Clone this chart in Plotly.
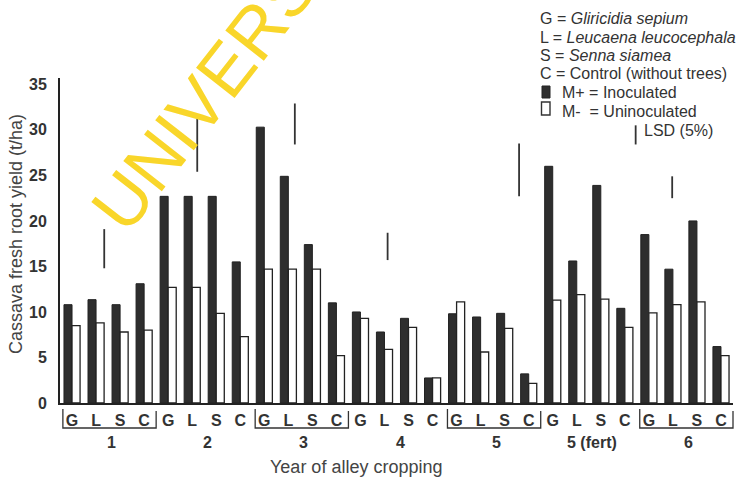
import plotly.graph_objects as go

years = ["1", "2", "3", "4", "5", "5 (fert)", "6"]
trees = ["G", "L", "S", "C"]
bracketed = ["1", "3", "5", "6"]

m_plus = [10.8, 11.35, 10.8, 13.1,
          22.7, 22.7, 22.7, 15.5,
          30.3, 24.9, 17.4, 11.0,
          10.0, 7.8, 9.3, 2.75,
          9.8, 9.45, 9.85, 3.2,
          26.0, 15.6, 23.9, 10.4,
          18.5, 14.7, 20.0, 6.2]
m_minus = [8.5, 8.8, 7.8, 8.0,
           12.7, 12.7, 9.85, 7.3,
           14.7, 14.7, 14.7, 5.2,
           9.3, 5.9, 8.3, 2.75,
           11.1, 5.6, 8.2, 2.15,
           11.3, 11.9, 11.4, 8.3,
           9.9, 10.8, 11.1, 5.2]

# LSD (5%) bars: position (in bar-pair index units), low and high values
lsd_pos = [1.34, 5.21, 9.27, 13.13, 18.6, 24.97, 23.45]
lsd_low = [14.8, 25.4, 28.4, 15.7, 22.7, 22.5, 28.4]
lsd_high = [19.1, 31.5, 32.9, 18.7, 28.5, 24.9, 30.5]

legend_lines = ["G = <i>Gliricidia sepium</i>",
                "L = <i>Leucaena leucocephala</i>",
                "S = <i>Senna siamea</i>",
                "C = Control (without trees)"]

n = len(years) * len(trees)
xs = list(range(n))
ticktext = trees * len(years)

W, H = 742, 480
L, R, T, B = 60, 9, 78, 77
PW, PH = W - L - R, H - T - B


def px(p):
    return (p - L) / PW


def py(p):
    return (H - B - p) / PH


def xpaper(i):
    return (i + 0.5) / n


FONT = "Liberation Sans, Arial, sans-serif"
DARK = "#2e2e2e"

fig = go.Figure()
fig.add_trace(go.Bar(x=xs, y=m_plus, name="M+ = Inoculated",
                     marker=dict(color=DARK, line=dict(color="#222", width=1))))
fig.add_trace(go.Bar(x=xs, y=m_minus, name="M- = Uninoculated",
                     marker=dict(color="white", line=dict(color="#222", width=1.3))))

lx, ly = [], []
for p, lo, hi in zip(lsd_pos, lsd_low, lsd_high):
    lx += [p, p, None]
    ly += [lo, hi, None]
fig.add_trace(go.Scatter(x=lx, y=ly, mode="lines", line=dict(color="#333", width=1.8),
                         hoverinfo="skip"))

shapes = []
annotations = []

# watermark (drawn first so other texts sit above it)
annotations.append(dict(xref="paper", yref="paper", x=px(238), y=py(53),
                        text="UNIVERSITY", textangle=-52, showarrow=False,
                        xanchor="center", yanchor="middle",
                        font=dict(family=FONT, size=71, color="#f9d62a")))

# year labels and brackets
for g, yr in enumerate(years):
    first = g * len(trees)
    last = first + len(trees) - 1
    annotations.append(dict(xref="x", yref="paper", x=(first + last) / 2 + 0.15, y=py(442),
                            text=yr, showarrow=False, xanchor="center", yanchor="middle",
                            font=dict(family=FONT, size=16, color="#333", weight="bold")))
    if yr in bracketed:
        x0 = xpaper(first - 0.38)
        x1 = xpaper(last + 0.5)
        shapes.append(dict(type="path", xref="paper", yref="paper",
                           path=f"M {x0} {py(409)} L {x0} {py(428)} L {x1} {py(428)} L {x1} {py(411)}",
                           line=dict(color="#333", width=1.3)))

# legend
leg_y = [18.5, 37, 55.5, 74]
for t, yy in zip(legend_lines, leg_y):
    annotations.append(dict(xref="paper", yref="paper", x=px(538), y=py(yy), text=t,
                            showarrow=False, xanchor="left", yanchor="middle",
                            font=dict(family=FONT, size=16, color="#333")))
annotations.append(dict(xref="paper", yref="paper", x=px(560), y=py(92.5), text="M+ = Inoculated",
                        showarrow=False, xanchor="left", yanchor="middle",
                        font=dict(family=FONT, size=16, color="#333")))
annotations.append(dict(xref="paper", yref="paper", x=px(560), y=py(111), text="M-  = Uninoculated",
                        showarrow=False, xanchor="left", yanchor="middle",
                        font=dict(family=FONT, size=16, color="#333")))
annotations.append(dict(xref="paper", yref="paper", x=px(642), y=py(130), text="LSD (5%)",
                        showarrow=False, xanchor="left", yanchor="middle",
                        font=dict(family=FONT, size=16, color="#333")))
shapes.append(dict(type="rect", xref="paper", yref="paper", x0=px(542), x1=px(550),
                   y0=py(98), y1=py(86), fillcolor=DARK, line=dict(color="#222", width=1)))
shapes.append(dict(type="rect", xref="paper", yref="paper", x0=px(541.5), x1=px(550),
                   y0=py(115), y1=py(102), fillcolor="white", line=dict(color="#333", width=1.4)))

# axis titles
annotations.append(dict(xref="paper", yref="paper", x=px(16), y=py(234),
                        text="Cassava fresh root yield (t/ha)", textangle=-90, showarrow=False,
                        xanchor="center", yanchor="middle",
                        font=dict(family=FONT, size=18, color="#444")))
annotations.append(dict(xref="paper", yref="paper", x=px(356), y=py(467),
                        text="Year of alley cropping", showarrow=False,
                        xanchor="center", yanchor="middle",
                        font=dict(family=FONT, size=18, color="#444")))

fig.update_layout(
    width=W, height=H,
    margin=dict(l=L, r=R, t=T, b=B, pad=0),
    paper_bgcolor="white", plot_bgcolor="white",
    barmode="group", bargap=0.33, bargroupgap=0,
    showlegend=False,
    shapes=shapes, annotations=annotations,
    font=dict(family=FONT, color="#333"),
)
fig.update_xaxes(range=[-0.5, n - 0.5], tickvals=xs, ticktext=ticktext, ticks="",
                 showline=True, linecolor="#222", linewidth=2, showgrid=False, zeroline=False,
                 tickfont=dict(family=FONT, size=16, color="#333", weight="bold"),
                 ticklabelstandoff=2)
fig.update_yaxes(range=[0, 35.7], tickvals=[0, 5, 10, 15, 20, 25, 30, 35], ticks="",
                 showline=True, linecolor="#222", linewidth=2, showgrid=False, zeroline=False,
                 tickfont=dict(family=FONT, size=16, color="#333", weight="bold"),
                 ticklabelstandoff=8)

fig.write_html("out.html")
